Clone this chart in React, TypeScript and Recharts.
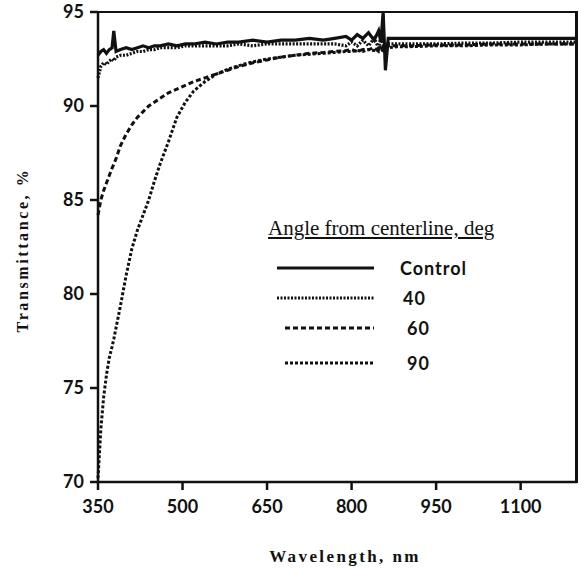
import { LineChart, Line, XAxis, YAxis, Label } from "recharts"

// wavelength, nm
const wavelengths = [
    350, 355, 360, 365, 370, 375, 378, 382, 390, 400,
    410, 420, 430, 440, 450, 460, 475, 490, 505, 520,
    540, 560, 580, 600, 625, 650, 675, 700, 725, 750,
    770, 790, 800, 810, 820, 830, 840, 848, 852, 856,
    860, 865, 880, 900, 950, 1000, 1050, 1100, 1150, 1200,
]

// transmittance, %
const control = [
    92.7, 92.9, 93.0, 92.8, 93.0, 93.1, 94.0, 92.9, 93.0, 93.1,
    93.0, 93.1, 93.2, 93.1, 93.2, 93.2, 93.3, 93.2, 93.3, 93.3,
    93.4, 93.3, 93.4, 93.4, 93.5, 93.4, 93.5, 93.5, 93.6, 93.5,
    93.6, 93.7, 93.5, 93.8, 93.6, 93.9, 93.5, 94.0, 93.4, 95.0,
    91.9, 93.6, 93.6, 93.6, 93.6, 93.6, 93.6, 93.6, 93.6, 93.6,
]
const deg40 = [
    91.5, 92.1, 92.3, 92.2, 92.4, 92.5, 92.4, 92.6, 92.7, 92.7,
    92.8, 92.9, 92.9, 93.0, 93.0, 93.1, 93.1, 93.1, 93.2, 93.2,
    93.2, 93.2, 93.2, 93.3, 93.2, 93.3, 93.3, 93.3, 93.3, 93.3,
    93.3, 93.2, 93.4, 93.2, 93.5, 93.2, 93.6, 93.1, 93.7, 93.2,
    93.3, 93.3, 93.3, 93.3, 93.3, 93.35, 93.35, 93.4, 93.4, 93.4,
]
const deg60 = [
    84.2, 85.0, 85.5, 85.9, 86.3, 86.7, 86.9, 87.2, 87.9, 88.5,
    89.0, 89.4, 89.7, 90.0, 90.2, 90.4, 90.7, 90.9, 91.1, 91.3,
    91.5, 91.7, 91.9, 92.1, 92.3, 92.45, 92.6, 92.7, 92.8, 92.85,
    92.9, 92.95, 93.0, 92.9, 93.0, 93.0, 93.1, 92.9, 93.1, 93.0,
    93.2, 93.2, 93.2, 93.2, 93.25, 93.25, 93.3, 93.3, 93.3, 93.3,
]
const deg90 = [
    70.2, 72.8, 74.5, 75.7, 76.6, 77.2, 77.6, 78.2, 79.4, 81.0,
    82.4, 83.4, 84.2, 85.0, 86.0, 86.9, 88.1, 89.4, 90.2, 90.8,
    91.3, 91.7, 91.95, 92.15, 92.35, 92.5, 92.6, 92.7, 92.75, 92.8,
    92.85, 92.9, 92.9, 92.95, 92.9, 93.0, 92.95, 93.0, 92.9, 93.0,
    93.1, 93.1, 93.15, 93.15, 93.2, 93.2, 93.25, 93.25, 93.3, 93.3,
]

const xTicks = [350, 500, 650, 800, 950, 1100]
const yTicks = [70, 75, 80, 85, 90, 95]

const SERIES = [
    { key: "control", name: "Control", dash: undefined, width: 3.2 },
    { key: "d40", name: "40", dash: "2 1.5", width: 3.2 },
    { key: "d60", name: "60", dash: "5 3", width: 3 },
    { key: "d90", name: "90", dash: "3 2", width: 3 },
]

const data = wavelengths.map((wl, i) => ({
    wl,
    control: control[i],
    d40: deg40[i],
    d60: deg60[i],
    d90: deg90[i],
}))

const tickStyle = { fontFamily: "Lato", fontWeight: 700, fontSize: 18, fill: "#111" }
const axisLine = { stroke: "#111", strokeWidth: 2.5 }

// legend drawn by hand, the chart's own Legend would take room from the plot
const LegendBox = () => (
    <div style={{ position: "absolute", left: 260, top: 210, width: 320, height: 180, fontFamily: "Lato", color: "#111" }}>
        <div
            style={{
                position: "absolute",
                left: 8,
                top: 6,
                fontFamily: "Liberation Serif",
                fontSize: 21,
                lineHeight: "24px",
                textDecoration: "underline",
                whiteSpace: "nowrap",
            }}
        >
            Angle from centerline, deg
        </div>
        {SERIES.map((s, i) => {
            const y = [58, 88, 118, 153][i]
            const x0 = i < 2 ? 17 : 25
            return (
                <div key={s.key}>
                    <svg style={{ position: "absolute", left: 0, top: y - 5 }} width={130} height={10}>
                        <line x1={x0} x2={114} y1={5} y2={5} stroke="#111" strokeWidth={s.width} strokeDasharray={s.dash} />
                    </svg>
                    <div
                        style={{
                            position: "absolute",
                            left: i === 0 ? 140 : i === 1 ? 143 : 147,
                            top: y - 11,
                            fontSize: 18,
                            fontWeight: 700,
                            letterSpacing: 1,
                            lineHeight: "22px",
                        }}
                    >
                        {s.name}
                    </div>
                </div>
            )
        })}
    </div>
)

export default function App() {
    return (
        <div style={{ position: "absolute", left: 0, top: 0, width: 582, height: 578, background: "#fff" }}>
            <LineChart width={582} height={578} data={data} margin={{ top: 12, right: 5, bottom: 0, left: 0 }}>
                <XAxis
                    dataKey="wl"
                    type="number"
                    domain={[350, 1200]}
                    ticks={xTicks}
                    height={96}
                    tickSize={8}
                    tickMargin={10}
                    tick={tickStyle}
                    axisLine={axisLine}
                    tickLine={axisLine}
                >
                    <Label
                        content={() => (
                            <text
                                x={345}
                                y={556}
                                textAnchor="middle"
                                dominantBaseline="central"
                                style={{ fontFamily: "Liberation Serif", fontWeight: 700, fontSize: 17, letterSpacing: 2.4, fill: "#111" }}
                            >
                                Wavelength, nm
                            </text>
                        )}
                    />
                </XAxis>
                <YAxis
                    type="number"
                    domain={[70, 95]}
                    ticks={yTicks}
                    width={98}
                    tickSize={8}
                    tickMargin={6}
                    tick={tickStyle}
                    axisLine={axisLine}
                    tickLine={axisLine}
                    allowDataOverflow
                >
                    <Label
                        content={() => (
                            <text
                                x={22}
                                y={250}
                                transform="rotate(-90 22 250)"
                                textAnchor="middle"
                                dominantBaseline="central"
                                style={{ fontFamily: "Liberation Serif", fontWeight: 700, fontSize: 16, letterSpacing: 2.6, fill: "#111" }}
                            >
                                Transmittance, %
                            </text>
                        )}
                    />
                </YAxis>
                {SERIES.map((s) => (
                    <Line
                        key={s.key}
                        dataKey={s.key}
                        name={s.name}
                        type="linear"
                        stroke="#111"
                        strokeWidth={s.width}
                        strokeDasharray={s.dash}
                        dot={false}
                        isAnimationActive={false}
                    />
                ))}
            </LineChart>
            {/* top and right sides of the plot frame */}
            <div
                style={{
                    position: "absolute",
                    left: 98,
                    top: 11,
                    width: 477,
                    height: 470,
                    borderTop: "2px solid #111",
                    borderRight: "3px solid #111",
                    pointerEvents: "none",
                }}
            />
            <LegendBox />
        </div>
    )
}
